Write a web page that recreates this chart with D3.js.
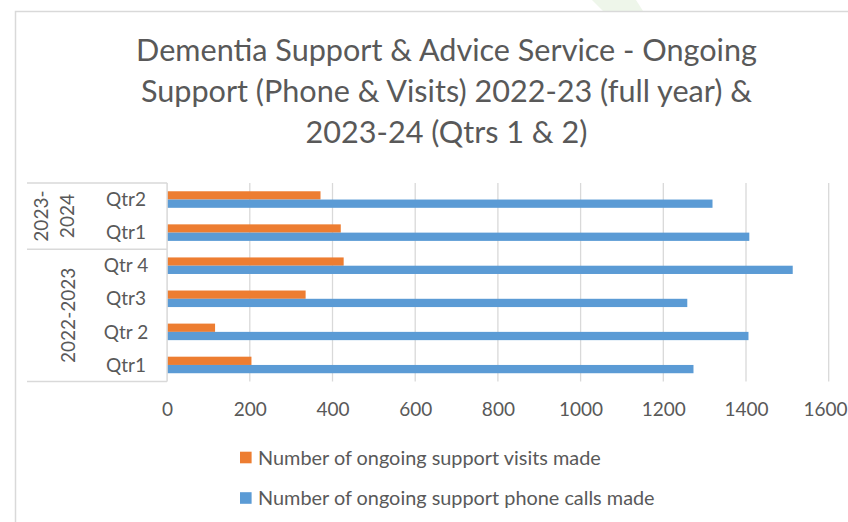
<!DOCTYPE html>
<html>
<head>
<meta charset="utf-8">
<script src="https://cdn.jsdelivr.net/npm/d3@7"></script>
<style>
  html, body { margin: 0; padding: 0; background: #ffffff; }
  svg { display: block; }
</style>
</head>
<body>
<div id="chart"></div>
<script>
// ---- Data ----
const categories = ["Qtr1", "Qtr 2", "Qtr3", "Qtr 4", "Qtr1", "Qtr2"];
const groupOf = ["2022-2023", "2022-2023", "2022-2023", "2022-2023", "2023-2024", "2023-2024"];
const groupLabels = [["2022-2023"], ["2023-", "2024"]];
const visits = [204, 116, 335, 427, 420, 371];
const calls = [1273, 1406, 1258, 1513, 1408, 1319];
const xTicks = [0, 200, 400, 600, 800, 1000, 1200, 1400, 1600];
const seriesNames = ["Number of ongoing support visits made", "Number of ongoing support phone calls made"];
const titleLines = ["Dementia Support & Advice Service - Ongoing", "Support (Phone & Visits) 2022-23 (full year) &", "2023-24 (Qtrs 1 & 2)"];

const W = 848, H = 522;
const FONT = "Lato, 'Open Sans', sans-serif";
const TEXT = "#595959";
const GRID = "#D9D9D9";
const COLORS = ["#ED7D31", "#5B9BD5"];

const svg = d3.select("#chart").append("svg").attr("width", W).attr("height", H);
svg.append("rect").attr("width", W).attr("height", H).attr("fill", "#fff");

// faint green watermark shape at the top
svg.append("polygon")
  .attr("points", "592,0 636,0 643,11 603,11")
  .attr("fill", "#EEF6EA");

// chart border (extends beyond the visible area)
svg.append("rect")
  .attr("x", 15.5).attr("y", 11.5)
  .attr("width", W + 20).attr("height", H + 20)
  .attr("fill", "#fff").attr("stroke", GRID).attr("stroke-width", 1.5);

function fit(sel, target) {
  const w = sel.node().getComputedTextLength();
  const fs = parseFloat(sel.attr("font-size"));
  const nfs = fs * target / w;
  sel.attr("font-size", nfs);
  return nfs;
}

// ---- Title ----
const titleBase = [61, 102, 143];
const tl = svg.append("g").selectAll("text").data(titleLines).join("text")
  .attr("x", 446.5).attr("y", (d, i) => titleBase[i])
  .attr("text-anchor", "middle").attr("font-family", FONT)
  .attr("font-size", 28).attr("fill", TEXT).text(d => d);
const tfs = fit(d3.select(tl.nodes()[0]), 621);
tl.attr("font-size", tfs);

// ---- Scales ----
const x = d3.scaleLinear().domain([0, 1600]).range([167.1, 828.7]);
const y0 = d3.scaleBand().domain(d3.range(categories.length)).range([381.5, 183]).padding(0);
const y1 = d3.scaleBand().domain([0, 1]).range([0, y0.bandwidth()]).paddingInner(0).paddingOuter(1);

// ---- Gridlines ----
svg.append("g").selectAll("line").data(xTicks.slice(1)).join("line")
  .attr("x1", d => x(d)).attr("x2", d => x(d))
  .attr("y1", 183).attr("y2", 381.5)
  .attr("stroke", GRID).attr("stroke-width", 1.3);

// ---- Bars ----
const series = [visits, calls];
series.forEach((vals, s) => {
  svg.append("g").selectAll("rect").data(vals).join("rect")
    .attr("x", x(0))
    .attr("y", (d, i) => y0(i) + y1(s))
    .attr("width", d => x(d) - x(0))
    .attr("height", y1.bandwidth())
    .attr("fill", COLORS[s]);
});

// ---- X axis tick labels ----
const xAxis = d3.axisBottom(x).tickValues(xTicks).tickSize(0).tickPadding(0).tickFormat(d3.format("d"));
const xg = svg.append("g").attr("transform", "translate(0,402)").call(xAxis);
xg.select(".domain").remove();
xg.selectAll("text").attr("font-family", FONT).attr("font-size", 19).attr("fill", TEXT);
// keep the last label inside the frame
xg.selectAll(".tick").filter(d => d === xTicks[xTicks.length - 1]).select("text")
  .attr("text-anchor", "end").attr("x", W - 1 - x(xTicks[xTicks.length - 1]));

// ---- Category axis (vertical) ----
svg.append("line").attr("x1", x(0)).attr("x2", x(0)).attr("y1", 183).attr("y2", 381.5)
  .attr("stroke", GRID).attr("stroke-width", 1.5);

svg.append("g").selectAll("text").data(categories).join("text")
  .attr("x", 126).attr("y", (d, i) => y0(i) + y0.bandwidth() / 2)
  .attr("dy", "0.35em").attr("text-anchor", "middle")
  .attr("font-family", FONT).attr("font-size", 19).attr("fill", TEXT).text(d => d);

// group boundaries
const groupNames = Array.from(new Set(groupOf));
const bounds = groupNames.map(g => {
  const idx = d3.range(groupOf.length).filter(i => groupOf[i] === g);
  const top = d3.min(idx, i => y0(i));
  const bot = d3.max(idx, i => y0(i) + y0.bandwidth());
  return { g, top, bot };
});
const hLines = Array.from(new Set(bounds.flatMap(b => [b.top, b.bot])));
svg.append("g").selectAll("line").data(hLines).join("line")
  .attr("x1", 27).attr("x2", x(0)).attr("y1", d => d).attr("y2", d => d)
  .attr("stroke", GRID).attr("stroke-width", 1.5);

const groupX = [[68], [41, 67]];
bounds.forEach((b, gi) => {
  const cy = (b.top + b.bot) / 2;
  groupLabels[gi].forEach((line, li) => {
    svg.append("text")
      .attr("transform", `translate(${groupX[gi][li]},${cy}) rotate(-90)`)
      .attr("text-anchor", "middle").attr("dy", "0.35em")
      .attr("font-family", FONT).attr("font-size", 19).attr("fill", TEXT)
      .text(line);
  });
});

// ---- Legend ----
const legY = [457.5, 498];
const lg = svg.append("g");
seriesNames.forEach((name, i) => {
  lg.append("rect").attr("x", 240).attr("y", legY[i] - 5.8).attr("width", 11.6).attr("height", 11.6).attr("fill", COLORS[i]);
});
const lt = lg.selectAll("text").data(seriesNames).join("text")
  .attr("x", 258).attr("y", (d, i) => legY[i] + 7)
  .attr("font-family", FONT).attr("font-size", 20).attr("fill", TEXT).text(d => d);
const lfs = fit(d3.select(lt.nodes()[0]), 343);
lt.attr("font-size", lfs);
</script>
</body>
</html>
